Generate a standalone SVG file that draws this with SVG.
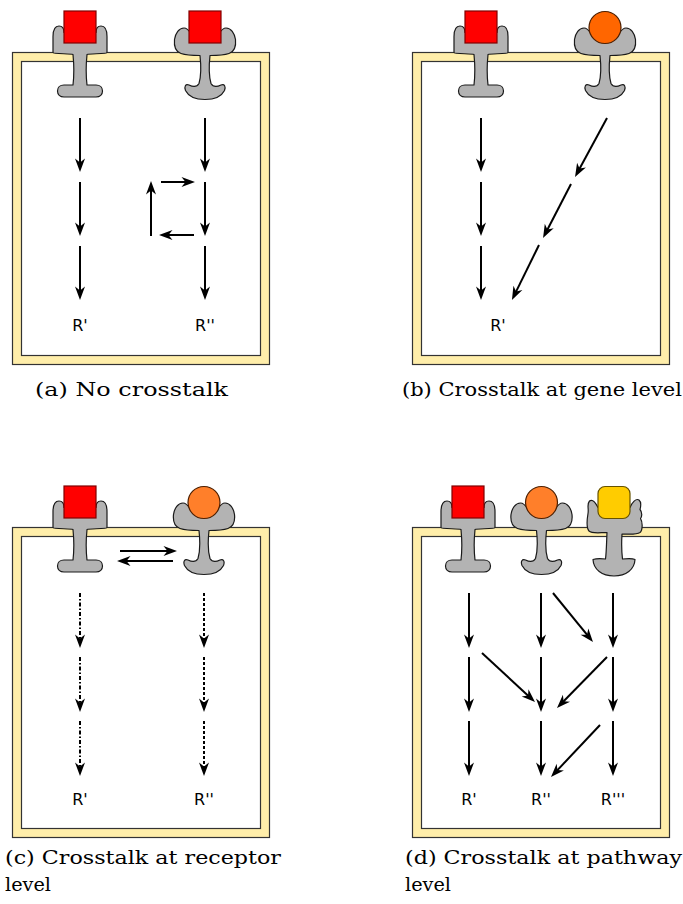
<svg xmlns="http://www.w3.org/2000/svg" xmlns:xlink="http://www.w3.org/1999/xlink" width="683" height="904" viewBox="0 0 683 904">
  <style>
    .cell-out { fill: #ffeeaa; stroke: #333333; stroke-width: 1.2; }
    .cell-in { fill: #ffffff; stroke: #333333; stroke-width: 1.2; }
    .body { fill: #b3b3b3; stroke: #1a1a1a; stroke-width: 1.2; stroke-linejoin: round; }
    .sq { fill: #ff0000; stroke: #800000; stroke-width: 1.2; }
    .circ1 { fill: #ff6600; stroke: #4d1f00; stroke-width: 1.2; }
    .circ2 { fill: #ff7f2a; stroke: #4d1f00; stroke-width: 1.2; }
    .rsq { fill: #ffcc00; stroke: #665200; stroke-width: 1.2; }
    .arr { fill: none; stroke: #000000; stroke-width: 2; marker-end: url(#head); }
    .dash { stroke-dasharray: 3 2; }
    .dashdot { stroke-dasharray: 4 2 1.5 2; }
    .rlab { font-family: "DejaVu Sans", sans-serif; font-size: 16px; fill: #000000; text-anchor: middle; }
    .cap { font-family: "DejaVu Serif", serif; font-size: 19px; fill: #000000; }
  </style>
  <defs>
    <marker id="head" markerUnits="userSpaceOnUse" orient="auto" refX="-6" refY="0" markerWidth="14" markerHeight="12" overflow="visible">
      <path d="M0,0 L-13.5,-5 L-9.5,0 L-13.5,5 Z" fill="#000000" stroke="none"/>
    </marker>
    <!-- receptor with straight lobes and flat foot -->
    <path id="recA" class="body" d="M-27,0 L-27,-16 C-27,-24 -24,-26.5 -21,-26.5 C-17,-26.5 -16,-24 -16,-20 L16,-20 C16,-24 17,-26.5 21,-26.5 C24,-26.5 27,-24 27,-16 L27,0 C27,1.5 10,1 7,2 C6,12 6,24 7,32.5 L16,32.5 C20,32.5 22.5,35 22.5,38.5 C22.5,42 20,44.5 16,44.5 L-16,44.5 C-20,44.5 -22.5,42 -22.5,38.5 C-22.5,35 -20,32.5 -16,32.5 L-7,32.5 C-6,24 -6,12 -7,2 C-10,1 -27,1.5 -27,0 Z"/>
    <!-- receptor with rounded lobes and curled foot -->
    <path id="recB" class="body" d="M-5,3 C-12,3 -18,3 -24,1 C-30,-1 -31,-8 -30.5,-13 C-29.5,-19.5 -26,-24.5 -21,-24.5 C-18,-24.5 -16,-22 -14,-19 L14,-19 C16,-22 18,-24.5 21,-24.5 C26,-24.5 29.5,-19.5 30.5,-13 C31,-8 30,-1 24,1 C18,3 12,3 5,3 C4,12 4,24 6,31 C8,34.5 12,34.5 16,32.5 C19.5,31 21,34 19.5,38 C16.5,44 10,47 0,47 C-10,47 -16.5,44 -19.5,38 C-21,34 -19.5,31 -16,32.5 C-12,34.5 -8,34.5 -6,31 C-4,24 -4,12 -5,3 Z"/>
    <!-- receptor with notched lobes and bowl foot -->
    <path id="recC" class="body" d="M-7,5 C-14,5 -22,6.5 -25,3.5 C-28,0 -27,-8 -26,-14 C-25,-19 -27.5,-23 -24.5,-26.5 C-21,-29 -18,-24 -16,-20 L16,-20 C18,-25 22,-29.5 25,-27.5 C28,-25 26.5,-20 26,-18 C28.5,-15 28,-11 26.5,-9 C29,-5 28.5,3 26,5 C22,7.5 14,6.5 8,6.5 C7.5,15 7.5,24 8.5,31.5 C13,31 19,31 21,32 C20.5,42 12,48.5 0,48.5 C-12,48.5 -20.5,42 -21,32 C-18,31 -12,31 -8.5,31.5 C-7.5,24 -7.5,15 -7,5 Z"/>
  </defs>

  <!-- cells -->
  <g id="cell-a">
    <rect class="cell-out" x="12.5" y="52.5" width="257" height="312"/>
    <rect class="cell-in" x="21.5" y="61.5" width="239" height="294"/>
  </g>
  <g id="cell-b">
    <rect class="cell-out" x="412.5" y="52.5" width="257" height="312"/>
    <rect class="cell-in" x="421.5" y="61.5" width="239" height="294"/>
  </g>
  <g id="cell-c">
    <rect class="cell-out" x="12.5" y="527.5" width="257" height="310"/>
    <rect class="cell-in" x="21.5" y="536.5" width="239" height="292"/>
  </g>
  <g id="cell-d">
    <rect class="cell-out" x="412.5" y="527.5" width="257" height="310"/>
    <rect class="cell-in" x="421.5" y="536.5" width="239" height="292"/>
  </g>

  <!-- receptors with bound ligands -->
  <g id="receptor-a1" transform="translate(80,52.5)">
    <use xlink:href="#recA"/>
    <rect class="sq" x="-16" y="-41.5" width="32" height="32"/>
  </g>
  <g id="receptor-a2" transform="translate(205,52.5)">
    <use xlink:href="#recB"/>
    <rect class="sq" x="-16" y="-41.5" width="32" height="32"/>
  </g>
  <g id="receptor-b1" transform="translate(481,52.5)">
    <use xlink:href="#recA"/>
    <rect class="sq" x="-16" y="-41.5" width="32" height="32"/>
  </g>
  <g id="receptor-b2" transform="translate(605,52.5)">
    <use xlink:href="#recB"/>
    <circle class="circ1" cx="0" cy="-25" r="16"/>
  </g>
  <g id="receptor-c1" transform="translate(80,527.5)">
    <use xlink:href="#recA"/>
    <rect class="sq" x="-16" y="-41.5" width="32" height="32"/>
  </g>
  <g id="receptor-c2" transform="translate(204,527.5)">
    <use xlink:href="#recB"/>
    <circle class="circ2" cx="0" cy="-25" r="16"/>
  </g>
  <g id="receptor-d1" transform="translate(468,527.5)">
    <use xlink:href="#recA"/>
    <rect class="sq" x="-16" y="-41.5" width="32" height="32"/>
  </g>
  <g id="receptor-d2" transform="translate(541.5,527.5)">
    <use xlink:href="#recB"/>
    <circle class="circ2" cx="0" cy="-25" r="16"/>
  </g>
  <g id="receptor-d3" transform="translate(614,527.5)">
    <use xlink:href="#recC"/>
    <rect class="rsq" x="-16" y="-41" width="32" height="32" rx="7"/>
  </g>

  <!-- signalling connectors -->
  <g id="connectors">
    <!-- (a) -->
    <line class="arr" x1="80" y1="118" x2="80" y2="166"/>
    <line class="arr" x1="80" y1="182" x2="80" y2="230"/>
    <line class="arr" x1="80" y1="246" x2="80" y2="294"/>
    <line class="arr" x1="205" y1="118" x2="205" y2="166"/>
    <line class="arr" x1="205" y1="182" x2="205" y2="230"/>
    <line class="arr" x1="205" y1="246" x2="205" y2="294"/>
    <line class="arr" x1="151" y1="236" x2="151" y2="187"/>
    <line class="arr" x1="161" y1="182" x2="189" y2="182"/>
    <line class="arr" x1="194" y1="235" x2="165" y2="235"/>
    <!-- (b) -->
    <line class="arr" x1="481" y1="118" x2="481" y2="166"/>
    <line class="arr" x1="481" y1="182" x2="481" y2="230"/>
    <line class="arr" x1="481" y1="246" x2="481" y2="294"/>
    <line class="arr" x1="607" y1="118" x2="577.9" y2="171.7"/>
    <line class="arr" x1="571" y1="184" x2="545.8" y2="232.7"/>
    <line class="arr" x1="539" y1="245" x2="514.6" y2="294.6"/>
    <!-- (c) -->
    <line class="arr" x1="120" y1="551" x2="171" y2="551"/>
    <line class="arr" x1="173" y1="561" x2="123" y2="561"/>
    <line class="arr dashdot" x1="80" y1="593" x2="80" y2="642"/>
    <line class="arr dashdot" x1="80" y1="657" x2="80" y2="706"/>
    <line class="arr dashdot" x1="80" y1="721" x2="80" y2="770"/>
    <line class="arr dash" x1="204" y1="593" x2="204" y2="642"/>
    <line class="arr dash" x1="204" y1="657" x2="204" y2="706"/>
    <line class="arr dash" x1="204" y1="721" x2="204" y2="770"/>
    <!-- (d) -->
    <line class="arr" x1="469" y1="593" x2="469" y2="642"/>
    <line class="arr" x1="469" y1="657" x2="469" y2="706"/>
    <line class="arr" x1="469" y1="721" x2="469" y2="770"/>
    <line class="arr" x1="541" y1="593" x2="541" y2="642"/>
    <line class="arr" x1="541" y1="657" x2="541" y2="706"/>
    <line class="arr" x1="541" y1="721" x2="541" y2="770"/>
    <line class="arr" x1="613" y1="593" x2="613" y2="642"/>
    <line class="arr" x1="613" y1="657" x2="613" y2="706"/>
    <line class="arr" x1="613" y1="721" x2="613" y2="770"/>
    <line class="arr" x1="553" y1="593" x2="589.2" y2="637.4"/>
    <line class="arr" x1="482" y1="653" x2="530.6" y2="697.9"/>
    <line class="arr" x1="607" y1="657" x2="561.2" y2="703.7"/>
    <line class="arr" x1="600" y1="725" x2="555.1" y2="772.6"/>
  </g>

  <!-- response labels -->
  <g id="labels">
    <text class="rlab" x="80" y="331">R'</text>
    <text class="rlab" x="205" y="331">R''</text>
    <text class="rlab" x="498" y="331">R'</text>
    <text class="rlab" x="80" y="805">R'</text>
    <text class="rlab" x="204" y="805">R''</text>
    <text class="rlab" x="469" y="805">R'</text>
    <text class="rlab" x="541" y="805">R''</text>
    <text class="rlab" x="613" y="805">R'''</text>
  </g>

  <!-- sub-figure captions -->
  <g id="captions">
    <text class="cap" x="35" y="396" textLength="193" lengthAdjust="spacingAndGlyphs">(a) No crosstalk</text>
    <text class="cap" x="402" y="396" textLength="280" lengthAdjust="spacingAndGlyphs">(b) Crosstalk at gene level</text>
    <text class="cap" x="5" y="864" textLength="276" lengthAdjust="spacingAndGlyphs">(c) Crosstalk at receptor</text>
    <text class="cap" x="5" y="891" textLength="46" lengthAdjust="spacingAndGlyphs">level</text>
    <text class="cap" x="405" y="864" textLength="277" lengthAdjust="spacingAndGlyphs">(d) Crosstalk at pathway</text>
    <text class="cap" x="405" y="891" textLength="46" lengthAdjust="spacingAndGlyphs">level</text>
  </g>
</svg>
